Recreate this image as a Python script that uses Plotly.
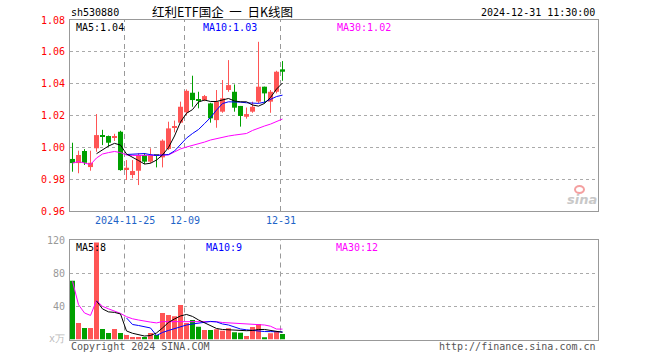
import plotly.graph_objects as go

# ---------------- data ----------------
dates = ["2024-11-12", "2024-11-13", "2024-11-14", "2024-11-15", "2024-11-18", "2024-11-19",
         "2024-11-20", "2024-11-21", "2024-11-22", "2024-11-25", "2024-11-26", "2024-11-27",
         "2024-11-28", "2024-11-29", "2024-12-02", "2024-12-03", "2024-12-04", "2024-12-05",
         "2024-12-06", "2024-12-09", "2024-12-10", "2024-12-11", "2024-12-12", "2024-12-13",
         "2024-12-16", "2024-12-17", "2024-12-18", "2024-12-19", "2024-12-20", "2024-12-23",
         "2024-12-24", "2024-12-25", "2024-12-26", "2024-12-27", "2024-12-30", "2024-12-31"]

open_ = [0.9927, 0.9901, 0.9977, 0.9876, 0.9994, 1.0073, 1.0071, 1.0060, 1.0098, 0.9862,
         0.9826, 0.9853, 0.9952, 0.9910, 0.9954, 0.9937, 0.9990, 1.0122, 1.0155, 1.0220,
         1.0343, 1.0299, 1.0297, 1.0276, 1.0171, 1.0224, 1.0360, 1.0349, 1.0260, 1.0192,
         1.0224, 1.0287, 1.0381, 1.0287, 1.0349, 1.0490]
high = [1.0029, 0.9979, 0.9989, 0.9979, 1.0209, 1.0110, 1.0074, 1.0085, 1.0104, 0.9920,
        0.9920, 0.9962, 0.9964, 0.9994, 0.9956, 1.0050, 1.0161, 1.0168, 1.0287, 1.0364,
        1.0450, 1.0349, 1.0329, 1.0280, 1.0360, 1.0423, 1.0548, 1.0395, 1.0260, 1.0250,
        1.0287, 1.0663, 1.0381, 1.0360, 1.0481, 1.0542]
low = [0.9847, 0.9837, 0.9889, 0.9853, 0.9972, 1.0014, 1.0004, 1.0040, 0.9853, 0.9795,
       0.9805, 0.9763, 0.9895, 0.9900, 0.9874, 0.9874, 0.9983, 1.0094, 1.0151, 1.0203,
       1.0255, 1.0245, 1.0290, 1.0155, 1.0123, 1.0217, 1.0349, 1.0224, 1.0130, 1.0180,
       1.0217, 1.0276, 1.0276, 1.0217, 1.0339, 1.0418]
close = [0.9901, 0.9952, 0.9903, 0.9903, 1.0077, 1.0067, 1.0029, 1.0071, 0.9857, 0.9872,
         0.9851, 0.9952, 0.9910, 0.9952, 0.9950, 1.0042, 1.0119, 1.0125, 1.0255, 1.0355,
         1.0297, 1.0295, 1.0322, 1.0182, 1.0287, 1.0308, 1.0391, 1.0249, 1.0197, 1.0209,
         1.0255, 1.0381, 1.0339, 1.0349, 1.0475, 1.0475]

ma5 = [None, None, None, None, 0.9960, 0.9983, 1.0008, 1.0025, 1.0014, 0.9958,
       0.9939, 0.9917, 0.9895, 0.9900, 0.9920, 0.9952, 0.9999, 1.0071, 1.0159, 1.0214,
       1.0237, 1.0285, 1.0297, 1.0288, 1.0288, 1.0297, 1.0307, 1.0291, 1.0286, 1.0286,
       1.0266, 1.0259, 1.0276, 1.0313, 1.0366, 1.0404]
ma10 = [None, None, None, None, None, None, None, None, None, 0.9955,
        0.9956, 0.9958, 0.9961, 0.9954, 0.9949, 0.9952, 0.9955, 0.9977, 1.0018, 1.0058,
        1.0087, 1.0112, 1.0149, 1.0187, 1.0234, 1.0275, 1.0286, 1.0286, 1.0284, 1.0280,
        1.0276, 1.0276, 1.0284, 1.0303, 1.0319, 1.0328]
ma30 = [0.9901, 0.9911, 0.9901, 0.9892, 0.9933, 0.9958, 0.9967, 0.9974, 0.9967, 0.9952,
        0.9949, 0.9949, 0.9949, 0.9949, 0.9949, 0.9949, 0.9952, 0.9971, 0.9990, 1.0002,
        1.0011, 1.0021, 1.0033, 1.0046, 1.0055, 1.0062, 1.0071, 1.0077, 1.0084, 1.0087,
        1.0106, 1.0121, 1.0134, 1.0146, 1.0162, 1.0178]

volume = [70.8, 20.0, 13.9, 13.9, 117.0, 12.7, 7.9, 12.7, 7.9, 5.4,
          3.0, 3.0, 3.0, 7.9, 5.4, 32.0, 29.6, 28.0, 41.7, 20.0,
          23.6, 15.5, 11.5, 11.5, 12.3, 10.6, 13.5, 8.7, 8.2, 4.2,
          15.1, 18.7, 2.7, 7.5, 9.4, 6.7]
vol_ma5 = [None, None, None, None, 46.6, 36.9, 33.3, 32.7, 30.8, 10.3,
           7.5, 5.4, 4.2, 4.8, 7.9, 13.9, 20.6, 24.8, 28.4, 30.2,
           27.8, 23.6, 20.0, 16.3, 13.3, 12.1, 11.5, 10.9, 10.6, 10.6,
           10.9, 12.1, 12.1, 10.9, 9.7, 8.7]
vol_ma10 = [None, None, None, None, None, None, None, None, None, 26.0,
            18.1, 16.9, 15.7, 13.9, 4.8, 8.5, 10.9, 13.3, 15.7, 17.5,
            18.7, 20.0, 21.2, 21.8, 21.2, 18.7, 17.5, 15.1, 12.7, 11.7,
            10.9, 10.0, 9.6, 9.5, 9.3, 9.2]
vol_ma30 = [70.2, 42.0, 32.0, 29.0, 47.0, 40.0, 37.0, 34.5, 31.5, 27.5,
            25.0, 23.5, 22.0, 21.0, 20.0, 21.6, 21.5, 21.5, 21.5, 21.5,
            21.5, 21.5, 21.5, 21.5, 21.5, 20.5, 20.0, 19.5, 19.5, 19.0,
            18.5, 18.0, 17.5, 16.0, 12.6, 12.5]

price_ticks = [1.08, 1.06, 1.04, 1.02, 1.00, 0.98, 0.96]
vol_ticks = [120, 80, 40]
marker_dates = ["2024-11-25", "2024-12-09", "2024-12-31"]
marker_labels = ["2024-11-25", "12-09", "12-31"]

# ---------------- styling / layout helpers ----------------
W, H = 660, 360
L, R = 70, 598
MAIN_T, MAIN_B = 20, 211
VOL_T, VOL_B = 240, 339.5
SLOT = 6.0
X0 = -2.5 / SLOT
X1 = X0 + (R - L) / SLOT

RED = "#ff5555"
GREEN = "#00a000"
GRID = "#aaaaaa"
BORDER = "#999999"
MONO = "DejaVu Sans Mono, monospace"


def px(x):
    return x / W


def py(y):
    return 1 - y / H


idx = list(range(len(dates)))
up = [c >= o for o, c in zip(open_, close)]
colors = [RED if u else GREEN for u in up]

fig = go.Figure()

# wicks
for flag, col in [(True, RED), (False, GREEN)]:
    wx, wy = [], []
    for i in idx:
        if up[i] == flag:
            wx += [i, i, None]
            wy += [low[i], high[i], None]
    fig.add_trace(go.Scatter(x=wx, y=wy, mode="lines", line=dict(color=col, width=1),
                             xaxis="x", yaxis="y", hoverinfo="skip"))

# bodies
body_base = [min(o, c) for o, c in zip(open_, close)]
body_h = [max(abs(c - o), 0.0006) for o, c in zip(open_, close)]
fig.add_trace(go.Bar(x=idx, y=body_h, base=body_base, width=5 / SLOT,
                     marker=dict(color=colors, line=dict(width=0)),
                     xaxis="x", yaxis="y"))

# price MAs
for series, col in [(ma30, "#ff00ff"), (ma10, "#0000ff"), (ma5, "#000000")]:
    fig.add_trace(go.Scatter(x=idx, y=series, mode="lines", line=dict(color=col, width=1),
                             xaxis="x", yaxis="y", connectgaps=False))

# volume
fig.add_trace(go.Bar(x=idx, y=volume, width=5 / SLOT,
                     marker=dict(color=colors, line=dict(width=0)),
                     xaxis="x2", yaxis="y2"))
for series, col in [(vol_ma30, "#ff00ff"), (vol_ma10, "#0000ff"), (vol_ma5, "#000000")]:
    fig.add_trace(go.Scatter(x=idx, y=series, mode="lines", line=dict(color=col, width=1),
                             xaxis="x2", yaxis="y2"))

shapes = []
# dashed date separators
for d in marker_dates:
    xi = dates.index(d) - 2.0 / SLOT
    for yref, y0, y1 in [("y", 0.96, 1.08), ("y2", 0, 120)]:
        shapes.append(dict(type="line", xref="x" if yref == "y" else "x2", yref=yref,
                           x0=xi, x1=xi, y0=y0, y1=y1,
                           line=dict(color=BORDER, width=1, dash="5px,4px"), layer="below"))

# sina logo eye
shapes.append(dict(type="circle", xref="paper", yref="paper",
                   x0=px(575), x1=px(584), y0=py(193), y1=py(186),
                   line=dict(color="#f4a0a0", width=2)))

annotations = []
# price tick labels
for v in price_ticks:
    annotations.append(dict(x=px(67), y=v, xref="paper", yref="y", text=f"{v:.2f}",
                            xanchor="right", yanchor="middle", showarrow=False,
                            font=dict(family=MONO, size=10, color="#ff0000")))
for v in vol_ticks:
    annotations.append(dict(x=px(67), y=v, xref="paper", yref="y2", text=f"{v}",
                            xanchor="right", yanchor="middle", showarrow=False,
                            font=dict(family=MONO, size=10, color="#999999")))
annotations.append(dict(x=px(67), y=py(338), xref="paper", yref="paper", text="x万",
                        xanchor="right", yanchor="middle", showarrow=False,
                        font=dict(family=MONO, size=10, color="#bbbbbb")))
# date labels
for d, t in zip(marker_dates, marker_labels):
    xi = dates.index(d) - 2.0 / SLOT
    annotations.append(dict(x=xi, y=py(220), xref="x", yref="paper", text=t,
                            xanchor="center", yanchor="middle", showarrow=False,
                            font=dict(family=MONO, size=10, color="#1e64c8")))

# header
annotations.append(dict(x=px(69), y=py(13), xref="paper", yref="paper", text="sh530880",
                        xanchor="left", yanchor="middle", showarrow=False,
                        font=dict(family=MONO, size=10, color="#000000")))
annotations.append(dict(x=px(150), y=py(12), xref="paper", yref="paper",
                        text="红利ETF国企\u00a0\u00a0一\u00a0\u00a0日K线图",
                        xanchor="left", yanchor="middle", showarrow=False,
                        font=dict(family="Noto Sans CJK SC", size=12.5, color="#000000")))
annotations.append(dict(x=px(597), y=py(13), xref="paper", yref="paper",
                        text=dates[-1] + " 11:30:00",
                        xanchor="right", yanchor="middle", showarrow=False,
                        font=dict(family=MONO, size=10, color="#000000")))

# MA legends
def lab(x, y, text, col):
    annotations.append(dict(x=px(x), y=py(y), xref="paper", yref="paper", text=text,
                            xanchor="left", yanchor="middle", showarrow=False,
                            font=dict(family=MONO, size=10, color=col)))


lab(74, 28, f"MA5:{ma5[-1]:.2f}", "#000000")
lab(201, 28, f"MA10:{ma10[-1]:.2f}", "#0000ff")
lab(335, 28, f"MA30:{ma30[-1]:.2f}", "#ff00ff")
lab(74, 247, f"MA5:{int(vol_ma5[-1])}", "#000000")
lab(204, 247, f"MA10:{int(vol_ma10[-1])}", "#0000ff")
lab(334, 247, f"MA30:{int(vol_ma30[-1])}", "#ff00ff")

# footer
annotations.append(dict(x=px(69), y=py(346), xref="paper", yref="paper",
                        text="Copyright 2024 SINA.COM", xanchor="left", yanchor="middle",
                        showarrow=False, font=dict(family=MONO, size=10, color="#555555")))
annotations.append(dict(x=px(598), y=py(346), xref="paper", yref="paper",
                        text="http://finance.sina.com.cn", xanchor="right", yanchor="middle",
                        showarrow=False, font=dict(family=MONO, size=10, color="#555555")))
# sina logo text
annotations.append(dict(x=px(582), y=py(199), xref="paper", yref="paper",
                        text="<b><i>sina</i></b>", xanchor="center", yanchor="middle",
                        showarrow=False, font=dict(family="DejaVu Sans", size=13, color="#c8c8c8")))

axis_common = dict(showline=True, mirror=True, linecolor=BORDER, linewidth=1,
                   zeroline=False, ticks="", showticklabels=False, fixedrange=True)

fig.update_layout(
    width=W, height=H, margin=dict(l=0, r=0, t=0, b=0),
    paper_bgcolor="white", plot_bgcolor="white",
    showlegend=False, barmode="overlay",
    xaxis=dict(domain=[px(L), px(R)], range=[X0, X1], anchor="y", showgrid=False, **axis_common),
    yaxis=dict(domain=[py(MAIN_B), py(MAIN_T)], range=[0.96, 1.08], anchor="x",
               tickvals=price_ticks, showgrid=True, gridcolor=GRID, griddash="dot", gridwidth=1,
               **axis_common),
    xaxis2=dict(domain=[px(L), px(R)], range=[X0, X1], anchor="y2", showgrid=False, **axis_common),
    yaxis2=dict(domain=[py(VOL_B), py(VOL_T)], range=[0, 120], anchor="x2",
                tickvals=vol_ticks, showgrid=True, gridcolor=GRID, griddash="dot", gridwidth=1,
                **axis_common),
    shapes=shapes, annotations=annotations,
)

fig.write_html("out.html", config={"displayModeBar": False},
               post_script="document.body.style.margin='0';document.body.style.padding='0';")
